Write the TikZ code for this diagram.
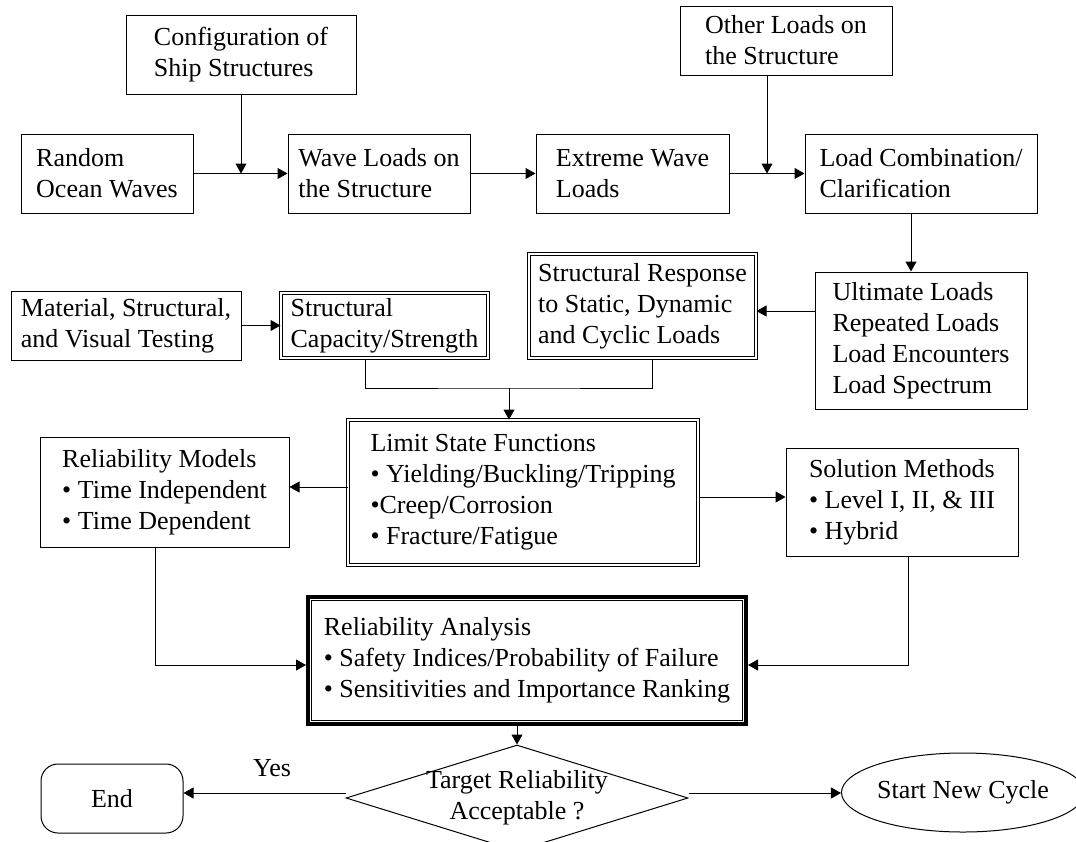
\documentclass[tikz,border=0pt]{standalone}
\usepackage{fontspec}
\setmainfont{Liberation Serif}
\usetikzlibrary{arrows.meta}
\usetikzlibrary{shapes.geometric}

\tikzset{
box/.style={draw,line width=1pt,align=left,inner sep=0pt,font=\fontsize{26pt}{31pt}\selectfont},
dbox/.style={box,double,double distance=1.6pt},
arr/.style={-{Triangle[length=10pt,width=11pt]},line width=1pt}
}

\begin{document}
\begin{tikzpicture}[x=1pt,y=-1pt]
\useasboundingbox (0,0) rectangle (1076,841);
\node[box,minimum width=230pt,minimum height=79pt] (cfg) at (241,54.5) {Configuration of\\Ship Structures};
\node[box,minimum width=172pt,minimum height=79pt] (rand) at (107,173.5) {Random\\Ocean Waves};
\node[box,minimum width=182pt,minimum height=79pt] (wave) at (379,173.5) {Wave Loads on\\the Structure};
\node[box,minimum width=193pt,minimum height=79pt] (ext) at (632.5,173.5) {Extreme Wave\\Loads};
\node[box,minimum width=212pt,minimum height=69pt] (oth) at (786,40.5) {Other Loads on\\the Structure};
\node[box,minimum width=232pt,minimum height=79pt] (comb) at (921,173.5) {Load Combination/\\Clarification};
\node[box,minimum width=212pt,minimum height=137pt] (ult) at (921,340.5) {Ultimate Loads\\Repeated Loads\\Load Encounters\\Load Spectrum};
\node[dbox,minimum width=227pt,minimum height=104pt] (resp) at (642.5,306) {Structural Response\\to Static, Dynamic\\and Cyclic Loads};
\node[box,minimum width=230pt,minimum height=69pt] (mat) at (126,325.5) {Material, Structural,\\and Visual Testing};
\node[dbox,minimum width=207pt,minimum height=65pt] (cap) at (384.5,325.5) {Structural\\Capacity/Strength};
\node[dbox,minimum width=350pt,minimum height=145pt] (lsf) at (523,492.5) {Limit State Functions\\• Yielding/Buckling/Tripping\\•Creep/Corrosion\\• Fracture/Fatigue};
\node[box,minimum width=249pt,minimum height=110pt] (rm) at (164.5,492) {Reliability Models\\• Time Independent\\• Time Dependent};
\node[box,minimum width=232pt,minimum height=108pt] (sol) at (902,502) {Solution Methods\\• Level I, II, \& III\\• Hybrid};
\node[box,line width=4pt,minimum width=438pt,minimum height=127pt] (ra) at (527,660.5) {Reliability Analysis\\• Safety Indices/Probability of Failure\\• Sensitivities and Importance Ranking};
\draw[line width=1pt] ([shift={(5.5pt,-5.5pt)}]ra.north west) rectangle ([shift={(-5.5pt,5.5pt)}]ra.south east);
\node[box,diamond,aspect=3.2,inner sep=-12pt,align=center,minimum width=342pt,minimum height=106pt] (dec) at (517,798) {Target Reliability\\Acceptable ?};
\node[box,align=center,rounded corners=17pt,minimum width=142pt,minimum height=69pt] (end) at (112,798.5) {End};
\node[box,ellipse,align=center,minimum width=226pt,minimum height=79pt] (new) at (963,792.5) {Start New Cycle};
\node[font=\fontsize{26pt}{31pt}\selectfont,inner sep=0pt] (yes) at (272,768) {Yes};

\draw[arr] (rand) -- (wave);
\draw[arr] (cfg) -- (cfg |- rand);
\draw[arr] (wave) -- (ext);
\draw[arr] (ext) -- (comb);
\coordinate (j2) at (767,173.5);
\draw[arr] (oth.south -| j2) -- (j2);
\draw[arr] ([xshift=-10pt]comb.south) -- ([xshift=-10pt]ult.north);
\draw[arr] ([yshift=29.5pt]ult.west) -- ([yshift=-5pt]resp.east);
\draw[arr] (mat) -- (cap);
\coordinate (j4) at (509,388);
\draw[line width=1pt] ([xshift=-19.5pt]cap.south) |- (j4) -| ([xshift=9.5pt]resp.south);
\draw[arr] (j4) -- (j4 |- lsf.north);
\draw[arr] ([yshift=5.5pt]lsf.west) -- ([yshift=5pt]rm.east);
\draw[arr] ([yshift=-4.5pt]lsf.east) -- ([yshift=5pt]sol.west);
\draw[arr] ([xshift=-9.5pt]rm.south) |- ([yshift=-4.5pt]ra.west);
\draw[arr] ([xshift=6pt]sol.south) |- ([yshift=-4.5pt]ra.east);
\draw[arr] (ra.south -| dec.north) -- (dec.north);
\draw[arr] ([yshift=5pt]dec.west) -- ([yshift=5pt]dec.west -| end.east);
\draw[arr] ([yshift=5pt]dec.east) -- ([yshift=5pt]dec.east -| new.west);

\end{tikzpicture}
\end{document}
